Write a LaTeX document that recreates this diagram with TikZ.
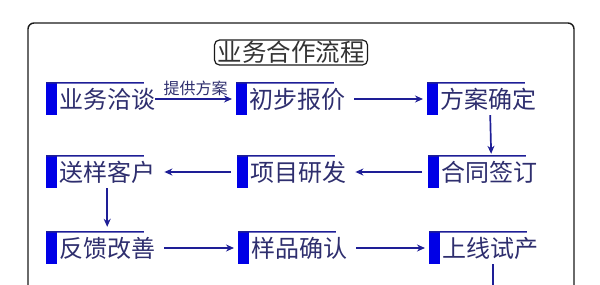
\documentclass[tikz,border=0pt]{standalone}
\usepackage{fontspec}
\newfontfamily\cjk{Noto Sans CJK SC}
\usetikzlibrary{arrows.meta, positioning, calc}
\definecolor{c1}{HTML}{1E1E96}
\definecolor{c2}{HTML}{2E2E6E}
\definecolor{c3}{HTML}{0000E6}
\definecolor{framecolor}{HTML}{1A1A1A}

\begin{document}
\begin{tikzpicture}[
    x=1pt, y=-1pt,
    every node/.style={font=\cjk},
    blk/.style={anchor=west, inner sep=0pt, minimum height=32pt, text=c2,
                font=\cjk\fontsize{24}{24}\selectfont},
    ttl/.style={rectangle, rounded corners=5pt, draw=framecolor, line width=1.2pt,
                inner xsep=3pt, inner ysep=0pt, minimum height=25pt, text=black!80,
                font=\cjk\fontsize{24.5}{24.5}\selectfont},
    lab/.style={font=\cjk\fontsize{16}{16}\selectfont, text=c2, inner sep=2pt},
    bar/.style={fill=c3},
    topline/.style={draw=c1, line width=1.6pt},
    arr/.style={-{Stealth[length=8pt, width=7pt]}, line width=1.7pt, color=c1,
                shorten <=9pt, shorten >=17pt},
    larr/.style={arr, shorten <=19pt, shorten >=9pt},
    varr/.style={-{Stealth[length=8pt, width=7pt]}, line width=1.7pt, color=c1},
]
\useasboundingbox (0,0) rectangle (600,284);
\clip (0,0) rectangle (600,284);

% ================================================================ frame
\draw[framecolor, line width=1.4pt, rounded corners=6pt] (28,23) rectangle (574,330);
\node[ttl] (title) at (291,52.5) {业务合作流程};

% ================================================================ row 1
\node[blk] (yw) at (59,99)  {业务洽谈};
\node[blk] (cb) at (249,99) {初步报价};
\node[blk] (fa) at (440,99) {方案确定};

% ================================================================ row 2
\node[blk] (sy) at (59,172)  {送样客户};
\node[blk] (xm) at (250,172) {项目研发};
\node[blk] (ht) at (441,172) {合同签订};

% ================================================================ row 3
\node[blk] (fk) at (59,248)  {反馈改善};
\node[blk] (yp) at (251,248) {样品确认};
\node[blk] (sx) at (442,248) {上线试产};

% the blue bars and the lines over each step
\foreach \n in {yw,cb,fa,sy,xm,ht,fk,yp,sx}{
    \fill[bar] ([xshift=-13pt]\n.north west) rectangle ([xshift=-2pt]\n.south west);
    \draw[topline] ([xshift=-13pt]\n.north west) -- ($(\n.north west)!0.88!(\n.north east)$);
}

% ================================================================ arrows
\draw[arr, shorten <=0pt] (yw) -- node[lab, above, pos=0.43] {提供方案} (cb);
\foreach \a/\b in {cb/fa, fk/yp, yp/sx}{ \draw[arr] (\a) -- (\b); }
\foreach \a/\b in {ht/xm, xm/sy}{ \draw[larr] (\a) -- (\b); }
\draw[varr, shorten >=2pt] ([xshift=2pt]fa.south) -- ([xshift=2pt]ht.north);
\draw[varr, shorten >=5pt] (sy.south) -- (fk.north);

% the way on below the cut
\coordinate (nxt) at (493,300);
\draw[c1, line width=1.7pt] (sx.south -| nxt) -- (nxt);
\end{tikzpicture}
\end{document}
